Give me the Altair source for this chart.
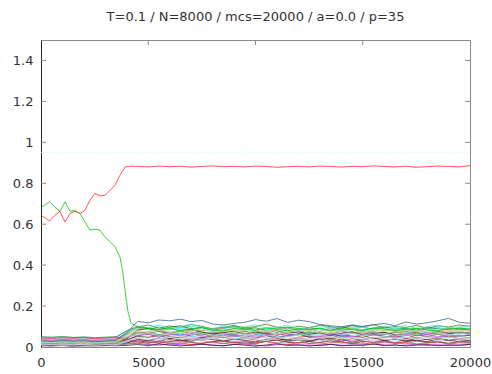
import altair as alt
import pandas as pd

TITLE = "T=0.1 / N=8000 / mcs=20000 / a=0.0 / p=35"

# sampling grid (Monte Carlo steps) for the background overlaps
mcs = list(range(0, 20001, 500))

# condensed pattern (red) and the pattern it displaces (green)
red_mcs = [0, 400, 650, 880, 1120, 1350, 1580, 1820, 2050, 2280, 2520, 2750,
           2980, 3220, 3450, 3680, 3920, 4200] + mcs[9:]
red_m = [0.644, 0.616, 0.644, 0.663, 0.611, 0.652, 0.663, 0.652, 0.668, 0.717,
         0.751, 0.738, 0.741, 0.766, 0.790, 0.839, 0.880, 0.884,
         0.882, 0.880, 0.884, 0.881, 0.883, 0.879, 0.882, 0.885,
         0.881, 0.883, 0.880, 0.884, 0.882, 0.878, 0.881, 0.883,
         0.880, 0.884, 0.882, 0.879, 0.883, 0.881, 0.885, 0.882,
         0.880, 0.883, 0.878, 0.881, 0.884, 0.882, 0.880, 0.886]

green_mcs = [0, 400, 650, 880, 1120, 1350, 1580, 1820, 2050, 2280, 2520, 2750,
             2980, 3220, 3450, 3680, 3800, 3950, 4060, 4200] + mcs[9:]
green_m = [0.681, 0.709, 0.683, 0.663, 0.709, 0.663, 0.668, 0.652, 0.611, 0.571,
           0.576, 0.571, 0.538, 0.514, 0.489, 0.440, 0.375, 0.250, 0.170, 0.117,
           0.098, 0.090, 0.085, 0.093, 0.080, 0.088, 0.095, 0.083,
           0.078, 0.091, 0.086, 0.082, 0.094, 0.087, 0.079, 0.090,
           0.084, 0.092, 0.077, 0.089, 0.085, 0.081, 0.093, 0.088,
           0.080, 0.086, 0.091, 0.083, 0.078, 0.090, 0.087, 0.084]

# pale cyan overlap sitting near 0.95
cyan_m = [0.951, 0.950, 0.952, 0.949, 0.951, 0.950, 0.948, 0.951, 0.950, 0.952,
          0.950, 0.949, 0.951, 0.950, 0.952, 0.951, 0.949, 0.950, 0.951, 0.953,
          0.950, 0.951, 0.949, 0.950, 0.952, 0.951, 0.950, 0.949, 0.951, 0.952,
          0.950, 0.951, 0.949, 0.950, 0.952, 0.951, 0.950, 0.951, 0.949, 0.950, 0.951]

# remaining patterns: small overlaps on the mcs grid
m03 = [0.021,0.018,0.024,0.020,0.017,0.022,0.025,0.027, 0.048,
       0.072,0.065,0.081,0.070,0.058,0.066,0.075,0.062, 0.054,0.069,0.078,0.064,0.057,0.071,0.083,0.067,
       0.060,0.073,0.065,0.052,0.068,0.079,0.070,0.061, 0.074,0.066,0.058,0.072,0.080,0.069,0.063,0.075]
m04 = [0.010,0.008,0.012,0.009,0.011,0.007,0.010,0.012, 0.015,
       0.018,0.012,0.009,0.015,0.011,0.007,0.013,0.010, 0.006,0.012,0.016,0.009,0.005,0.011,0.014,0.008,
       0.010,0.006,0.013,0.009,0.007,0.012,0.015,0.010, 0.006,0.009,0.013,0.008,0.011,0.007,0.010,0.012]
m05 = [0.044,0.046,0.042,0.045,0.043,0.040,0.044,0.047, 0.075,
       0.095,0.088,0.099,0.084,0.092,0.102,0.090,0.081, 0.094,0.105,0.089,0.078,0.091,0.086,0.097,0.083,
       0.074,0.088,0.095,0.082,0.090,0.099,0.087,0.079, 0.092,0.085,0.076,0.089,0.096,0.084,0.091,0.088]
m06 = [0.025,0.022,0.027,0.023,0.020,0.024,0.026,0.022, 0.035,
       0.052,0.045,0.058,0.040,0.049,0.036,0.044,0.055, 0.047,0.038,0.050,0.043,0.056,0.041,0.035,0.048,
       0.053,0.042,0.037,0.049,0.045,0.054,0.039,0.046, 0.051,0.040,0.048,0.036,0.044,0.052,0.041,0.047]
m07 = [0.030,0.027,0.032,0.029,0.026,0.031,0.028,0.033, 0.060,
       0.088,0.095,0.082,0.091,0.099,0.085,0.078,0.092, 0.087,0.080,0.094,0.089,0.076,0.090,0.097,0.084,
       0.079,0.093,0.086,0.081,0.095,0.083,0.090,0.098, 0.085,0.077,0.091,0.088,0.082,0.094,0.087,0.092]
m08 = [0.015,0.018,0.014,0.017,0.013,0.016,0.019,0.015, 0.030,
       0.055,0.062,0.048,0.059,0.066,0.051,0.045,0.058, 0.063,0.052,0.047,0.060,0.055,0.043,0.057,0.064,
       0.050,0.046,0.061,0.054,0.049,0.058,0.065,0.053, 0.044,0.056,0.062,0.050,0.047,0.059,0.053,0.057]
m09 = [0.028,0.025,0.030,0.026,0.029,0.024,0.027,0.031, 0.055,
       0.078,0.070,0.085,0.074,0.066,0.080,0.088,0.072, 0.068,0.083,0.076,0.071,0.086,0.079,0.069,0.075,
       0.082,0.073,0.067,0.080,0.087,0.074,0.070,0.084, 0.077,0.069,0.081,0.075,0.072,0.086,0.078,0.080]
m10 = [0.050,0.048,0.051,0.047,0.049,0.046,0.048,0.050, 0.080,
       0.100,0.092,0.086,0.097,0.104,0.089,0.095,0.083, 0.091,0.099,0.087,0.094,0.080,0.090,0.096,0.085,
       0.093,0.088,0.081,0.097,0.090,0.084,0.092,0.098, 0.086,0.091,0.083,0.095,0.089,0.087,0.093,0.090]
m11 = [0.012,0.014,0.011,0.015,0.013,0.010,0.014,0.012, 0.020,
       0.035,0.028,0.041,0.032,0.025,0.038,0.030,0.044, 0.027,0.036,0.031,0.022,0.039,0.033,0.026,0.042,
       0.029,0.035,0.024,0.037,0.031,0.040,0.028,0.034, 0.023,0.038,0.030,0.027,0.036,0.032,0.025,0.033]
m12 = [0.030,0.027,0.032,0.028,0.031,0.026,0.029,0.033, 0.070,
       0.125,0.118,0.132,0.128,0.136,0.124,0.130,0.112, 0.108,0.115,0.121,0.134,0.126,0.139,0.120,0.131,
       0.124,0.110,0.104,0.098,0.106,0.101,0.109,0.115, 0.104,0.122,0.112,0.118,0.128,0.140,0.121,0.116]
m13 = [0.018,0.016,0.020,0.017,0.019,0.015,0.018,0.016, 0.022,
       0.030,0.024,0.019,0.027,0.033,0.022,0.017,0.026, 0.031,0.020,0.025,0.018,0.029,0.034,0.023,0.019,
       0.027,0.021,0.032,0.024,0.017,0.028,0.022,0.030, 0.019,0.026,0.033,0.021,0.025,0.018,0.029,0.024]
m14 = [0.035,0.032,0.037,0.033,0.036,0.031,0.034,0.038, 0.065,
       0.098,0.108,0.092,0.103,0.095,0.110,0.101,0.089, 0.097,0.105,0.093,0.100,0.112,0.096,0.088,0.102,
       0.094,0.107,0.099,0.090,0.104,0.097,0.109,0.093, 0.100,0.095,0.106,0.091,0.103,0.098,0.108,0.101]
m15 = [0.040,0.043,0.038,0.042,0.039,0.044,0.041,0.045, 0.060,
       0.072,0.065,0.058,0.070,0.063,0.076,0.060,0.068, 0.074,0.061,0.067,0.055,0.071,0.064,0.059,0.073,
       0.066,0.057,0.069,0.062,0.075,0.058,0.065,0.070, 0.061,0.068,0.056,0.072,0.064,0.060,0.069,0.066]
m16 = [0.022,0.025,0.020,0.024,0.021,0.026,0.023,0.027, 0.050,
       0.085,0.092,0.080,0.088,0.095,0.083,0.090,0.078, 0.086,0.094,0.081,0.089,0.077,0.091,0.084,0.096,
       0.082,0.087,0.093,0.079,0.090,0.085,0.080,0.092, 0.088,0.083,0.095,0.081,0.086,0.090,0.084,0.089]
m17 = [0.014,0.012,0.016,0.013,0.015,0.011,0.014,0.017, 0.025,
       0.040,0.033,0.045,0.037,0.030,0.042,0.035,0.048, 0.031,0.039,0.044,0.034,0.028,0.041,0.036,0.046,
       0.032,0.038,0.043,0.029,0.040,0.035,0.047,0.033, 0.039,0.030,0.042,0.036,0.044,0.031,0.038,0.041]
m18 = [0.020,0.023,0.019,0.022,0.018,0.021,0.024,0.020, 0.045,
       0.075,0.070,0.079,0.068,0.074,0.082,0.071,0.066, 0.077,0.073,0.069,0.080,0.072,0.065,0.076,0.083,
       0.070,0.074,0.067,0.078,0.073,0.069,0.081,0.075, 0.068,0.076,0.071,0.079,0.066,0.074,0.070,0.077]
m19 = [0.026,0.029,0.024,0.028,0.025,0.030,0.027,0.023, 0.062,
       0.102,0.094,0.108,0.090,0.099,0.112,0.096,0.088, 0.104,0.093,0.100,0.109,0.091,0.097,0.106,0.089,
       0.095,0.103,0.092,0.098,0.110,0.094,0.087,0.101, 0.096,0.105,0.090,0.099,0.107,0.093,0.098,0.104]
m20 = [0.016,0.019,0.015,0.018,0.014,0.017,0.020,0.016, 0.040,
       0.082,0.090,0.076,0.068,0.079,0.085,0.072,0.064, 0.070,0.077,0.061,0.073,0.066,0.058,0.069,0.075,
       0.063,0.071,0.056,0.067,0.074,0.060,0.068,0.072, 0.059,0.065,0.070,0.062,0.076,0.066,0.071,0.064]
m21 = [0.006,0.005,0.007,0.004,0.006,0.005,0.007,0.006, 0.008,
       0.012,0.007,0.015,0.009,0.005,0.011,0.014,0.008, 0.006,0.013,0.009,0.004,0.010,0.016,0.007,0.011,
       0.005,0.009,0.013,0.006,0.010,0.008,0.014,0.007, 0.011,0.005,0.009,0.012,0.006,0.010,0.008,0.013]
m22 = [0.011,0.013,0.010,0.012,0.009,0.014,0.011,0.013, 0.020,
       0.038,0.031,0.026,0.042,0.034,0.029,0.045,0.036, 0.028,0.040,0.033,0.025,0.037,0.043,0.030,0.035,
       0.027,0.041,0.032,0.038,0.024,0.036,0.044,0.031, 0.039,0.029,0.034,0.026,0.040,0.033,0.037,0.030]
m23 = [0.017,0.015,0.019,0.016,0.018,0.014,0.017,0.020, 0.035,
       0.055,0.048,0.062,0.051,0.044,0.058,0.066,0.050, 0.045,0.057,0.053,0.041,0.060,0.049,0.055,0.064,
       0.047,0.052,0.043,0.059,0.054,0.046,0.061,0.050, 0.056,0.042,0.058,0.051,0.063,0.048,0.053,0.057]
m24 = [0.024,0.021,0.026,0.022,0.025,0.020,0.023,0.027, 0.045,
       0.066,0.074,0.060,0.070,0.078,0.063,0.057,0.071, 0.067,0.059,0.075,0.064,0.069,0.080,0.062,0.058,
       0.072,0.065,0.061,0.076,0.068,0.063,0.073,0.060, 0.070,0.077,0.064,0.059,0.071,0.066,0.074,0.068]
m25 = [0.009,0.011,0.008,0.010,0.012,0.009,0.011,0.008, 0.015,
       0.025,0.019,0.031,0.022,0.016,0.028,0.034,0.021, 0.018,0.027,0.023,0.014,0.030,0.020,0.026,0.033,
       0.017,0.024,0.029,0.019,0.022,0.032,0.018,0.027, 0.021,0.015,0.028,0.023,0.030,0.017,0.025,0.022]
m26 = [0.019,0.022,0.018,0.021,0.017,0.020,0.023,0.019, 0.045,
       0.070,0.063,0.078,0.067,0.084,0.072,0.061,0.075, 0.081,0.069,0.064,0.076,0.071,0.058,0.073,0.080,
       0.066,0.074,0.062,0.079,0.068,0.071,0.077,0.063, 0.074,0.065,0.082,0.070,0.060,0.076,0.069,0.073]
m27 = [0.032,0.035,0.030,0.034,0.031,0.036,0.033,0.037, 0.070,
       0.092,0.084,0.078,0.088,0.081,0.095,0.079,0.086, 0.090,0.076,0.083,0.089,0.074,0.087,0.093,0.080,
       0.085,0.077,0.091,0.082,0.088,0.075,0.084,0.090, 0.079,0.086,0.073,0.089,0.081,0.094,0.083,0.087]
m28 = [0.013,0.016,0.012,0.015,0.011,0.014,0.017,0.013, 0.030,
       0.046,0.052,0.040,0.049,0.056,0.043,0.038,0.050, 0.054,0.044,0.039,0.051,0.047,0.036,0.053,0.045,
       0.041,0.055,0.048,0.042,0.050,0.037,0.046,0.052, 0.044,0.049,0.040,0.054,0.047,0.043,0.051,0.046]
m29 = [0.023,0.020,0.025,0.021,0.024,0.019,0.022,0.026, 0.050,
       0.080,0.074,0.087,0.070,0.083,0.077,0.090,0.072, 0.079,0.085,0.068,0.081,0.076,0.088,0.071,0.078,
       0.084,0.069,0.082,0.075,0.086,0.073,0.080,0.077, 0.083,0.070,0.079,0.085,0.072,0.081,0.076,0.084]
m30 = [0.010,0.012,0.009,0.013,0.011,0.008,0.012,0.010, 0.025,
       0.042,0.036,0.050,0.031,0.045,0.039,0.028,0.047, 0.034,0.041,0.053,0.037,0.030,0.044,0.049,0.033,
       0.040,0.046,0.029,0.043,0.038,0.051,0.035,0.042, 0.032,0.048,0.039,0.044,0.031,0.045,0.037,0.041]
m31 = [0.037,0.034,0.039,0.035,0.038,0.033,0.036,0.040, 0.048,
       0.058,0.064,0.052,0.061,0.055,0.067,0.050,0.059, 0.063,0.054,0.060,0.048,0.057,0.065,0.053,0.062,
       0.056,0.051,0.066,0.058,0.049,0.061,0.055,0.064, 0.052,0.060,0.057,0.063,0.050,0.059,0.054,0.062]
m32 = [0.045,0.042,0.046,0.043,0.047,0.041,0.044,0.048, 0.035,
       0.024,0.018,0.027,0.015,0.021,0.012,0.019,0.025, 0.016,0.022,0.013,0.020,0.026,0.017,0.011,0.023,
       0.018,0.014,0.021,0.027,0.016,0.020,0.012,0.024, 0.017,0.022,0.015,0.019,0.025,0.013,0.021,0.018]
m33 = [0.027,0.024,0.029,0.025,0.028,0.023,0.026,0.030, 0.050,
       0.064,0.071,0.058,0.067,0.074,0.061,0.069,0.055, 0.066,0.072,0.060,0.068,0.053,0.063,0.070,0.059,
       0.065,0.057,0.073,0.062,0.067,0.056,0.071,0.064, 0.058,0.069,0.061,0.066,0.074,0.060,0.068,0.063]
m34 = [0.018,0.021,0.017,0.020,0.016,0.019,0.022,0.018, 0.030,
       0.044,0.050,0.038,0.047,0.041,0.053,0.036,0.045, 0.049,0.039,0.046,0.042,0.034,0.051,0.043,0.048,
       0.037,0.044,0.052,0.040,0.047,0.035,0.045,0.050, 0.041,0.048,0.038,0.046,0.043,0.049,0.039,0.044]

background = [
    ("m03", "#0080ff", m03), ("m04", "#c000ff", m04), ("m05", "#00eeee", m05),
    ("m06", "#c04000", m06), ("m07", "#c8c800", m07), ("m08", "#4169e1", m08),
    ("m09", "#ffc020", m09), ("m10", "#008040", m10), ("m11", "#c080ff", m11),
    ("m13", "#8b0000", m13), ("m14", "#408000", m14), ("m15", "#ff80ff", m15),
    ("m16", "#7fffd4", m16), ("m17", "#a52a2a", m17), ("m18", "#ffff00", m18),
    ("m19", "#40e0d0", m19), ("m20", "#000000", m20), ("m21", "#1a1a1a", m21),
    ("m22", "#333333", m22), ("m23", "#4d4d4d", m23), ("m24", "#666666", m24),
    ("m25", "#7f7f7f", m25), ("m26", "#999999", m26), ("m27", "#b3b3b3", m27),
    ("m28", "#c0c0c0", m28), ("m29", "#cccccc", m29), ("m30", "#e5e5e5", m30),
    ("m31", "#f055f0", m31), ("m32", "#f03232", m32), ("m33", "#90ee90", m33),
    ("m34", "#add8e6", m34), ("m12", "#306080", m12),
]

rows = []
for name, _, vals in background:
    rows += [{"pattern": name, "mcs": t, "m": v} for t, v in zip(mcs, vals)]
rows += [{"pattern": "m35", "mcs": t, "m": v} for t, v in zip(mcs, cyan_m)]
rows += [{"pattern": "m02", "mcs": t, "m": v} for t, v in zip(green_mcs, green_m)]
rows += [{"pattern": "m01", "mcs": t, "m": v} for t, v in zip(red_mcs, red_m)]
df = pd.DataFrame(rows)

domain = [n for n, _, _ in background] + ["m35", "m02", "m01"]
colors = [c for _, c, _ in background] + ["#e0ffff", "#00c000", "#ff2020"]

W, H = 429, 307
x_ticks = [0, 5000, 10000, 15000, 20000]
y_ticks = [0, 0.2, 0.4, 0.6, 0.8, 1.0, 1.2, 1.4]

xs = alt.Scale(domain=[0, 20000], nice=False)
ys = alt.Scale(domain=[0, 1.5], nice=False)

lines = alt.Chart(df).mark_line(strokeWidth=0.9, strokeOpacity=0.85, clip=True).encode(
    x=alt.X("mcs:Q", scale=xs,
            axis=alt.Axis(values=x_ticks, format="d", title=None, ticks=False,
                          grid=False, labelPadding=9, labelFlush=False,
                          domainColor="#8a8a8a")),
    y=alt.Y("m:Q", scale=ys,
            axis=alt.Axis(values=y_ticks, format="~g", title=None, ticks=False,
                          grid=False, labelPadding=8, labelFlush=False,
                          domainColor="#222222")),
    color=alt.Color("pattern:N", scale=alt.Scale(domain=domain, range=colors),
                    legend=None),
    order=alt.Order("mcs:Q"),
)

tick_col = "#8a8a8a"
ytick_df = pd.DataFrame({"v": y_ticks[1:]})
xtick_df = pd.DataFrame({"v": x_ticks[1:-1]})

left_ticks = alt.Chart(ytick_df).mark_rule(color=tick_col, strokeWidth=1).encode(
    y=alt.Y("v:Q", scale=ys), x=alt.value(0), x2=alt.value(5))
right_ticks = alt.Chart(ytick_df).mark_rule(color=tick_col, strokeWidth=1).encode(
    y=alt.Y("v:Q", scale=ys), x=alt.value(W - 5), x2=alt.value(W))
top_ticks = alt.Chart(xtick_df).mark_rule(color=tick_col, strokeWidth=1).encode(
    x=alt.X("v:Q", scale=xs), y=alt.value(0), y2=alt.value(5))
bottom_ticks = alt.Chart(xtick_df).mark_rule(color=tick_col, strokeWidth=1).encode(
    x=alt.X("v:Q", scale=xs), y=alt.value(H - 5), y2=alt.value(H))

chart = alt.layer(
    top_ticks, right_ticks, lines, left_ticks, bottom_ticks
).properties(
    width=W, height=H,
    title=alt.Title(TITLE, fontSize=13, font="DejaVu Sans", fontWeight="normal",
                    color="#333333", offset=16, anchor="middle"),
    autosize=alt.AutoSizeParams(type="none"),
    padding={"left": 41, "top": 40, "right": 22, "bottom": 27},
).configure_view(
    stroke="#8a8a8a", strokeWidth=1
).configure_axis(
    labelFont="DejaVu Sans", labelFontSize=13, labelColor="#333333",
    domainWidth=1,
)

chart.save("out.html", embed_options={"renderer": "svg", "actions": False})
